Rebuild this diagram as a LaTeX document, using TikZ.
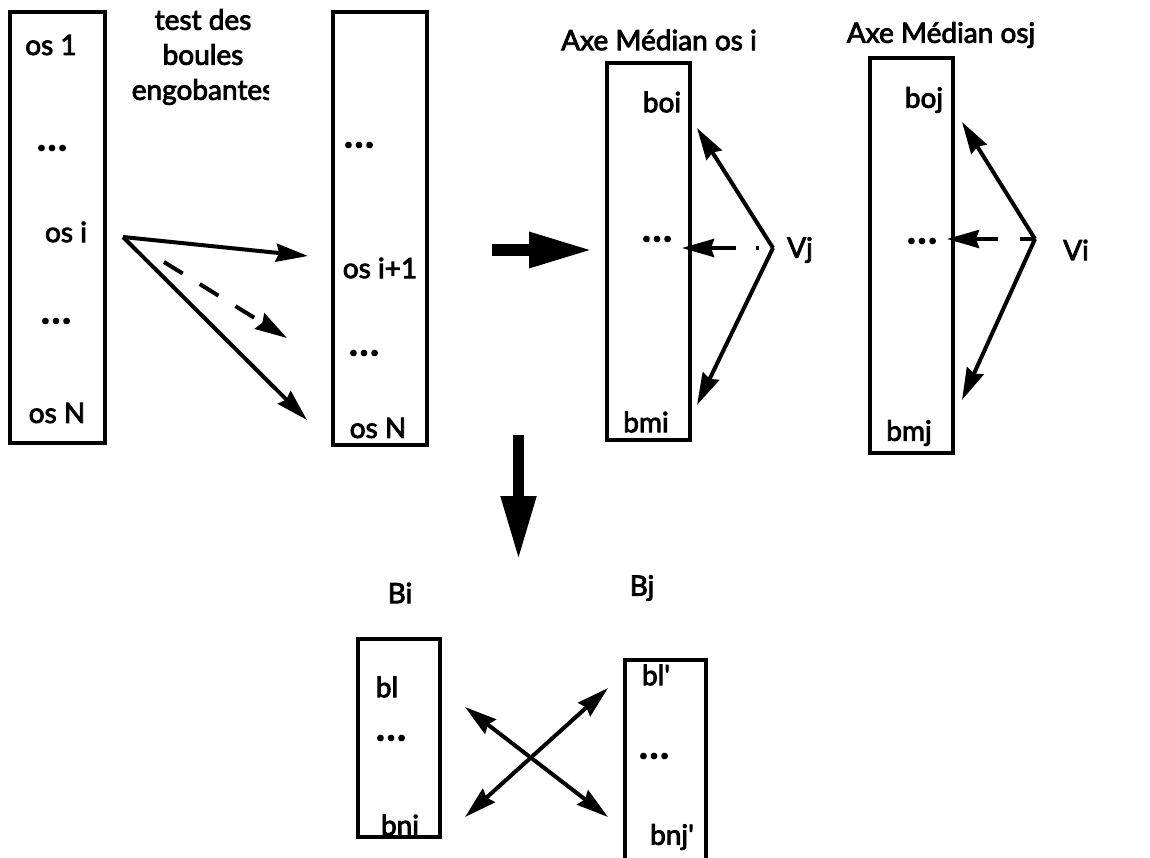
\documentclass[tikz,border=0pt]{standalone}
\usepackage{fontspec}
\setmainfont{Lato}[FakeBold=3, Ligatures=TeXOff]
\usetikzlibrary{arrows.meta}
\newcommand\tridots{\textbf{\fontsize{36}{36}\selectfont.\kern2pt.\kern2pt.}}
\begin{document}
\begin{tikzpicture}[x=1pt,y=-1pt,
  every node/.style={font=\fontsize{28}{36}\selectfont, inner sep=0pt},
  stackbox/.style={draw, line width=4pt, anchor=north west, inner sep=0pt, outer sep=0pt},
  thin arrow/.style={line width=4pt, -{Stealth[length=32pt,width=18pt,inset=3pt]}},
  both arrow/.style={line width=4pt, {Stealth[length=32pt,width=18pt,inset=3pt]}-{Stealth[length=32pt,width=18pt,inset=3pt]}},
  block arrow/.style={line width=12pt, -{Triangle[length=64pt,width=33pt]}}]
\useasboundingbox (0,0) rectangle (1150,858);

% list of bones
\node[stackbox, minimum width=95pt, minimum height=431pt] (list1) at (10,12) {};
\node (o1) at (51,45) {os 1};
\node (d1) at (52,148) {\tridots};
\node (oi) at (66,232) {os i};
\node (d2) at (56,321) {\tridots};
\node (oN) at (57,413) {os N};

% the test caption, cut at its right edge
\begin{scope}
\clip (110,0) rectangle (269,120);
\node[align=center, font=\fontsize{28}{35}\selectfont] (test) at (203,57) {test des\\boules\\engobantes};
\end{scope}

% remaining bones
\node[stackbox, minimum width=94pt, minimum height=433pt] (list2) at (333,12) {};
\node (e1) at (359,145) {\tridots};
\node (oi1) at (380,268) {os i+1};
\node (e2) at (364,353) {\tridots};
\node (eN) at (378,428) {os N};

% bounding-ball tests
\coordinate (src) at (123,237);
\coordinate (t1) at (308,256);
\coordinate (t2s) at (164,262);
\coordinate (t2) at (287,338);
\coordinate (t3) at (307,420);
\draw[thin arrow] (src) -- (t1);
\draw[thin arrow] (src) -- (t3);
\draw[thin arrow, dash pattern=on 22pt off 20pt] (t2s) -- (t2);

% block arrows
\coordinate (r0) at (492,250);
\coordinate (r1) at (593,250);
\draw[block arrow] (r0) -- (r1);
\coordinate (d0) at (518.5,435);
\coordinate (dd) at (518.5,560);
\draw[block arrow, line width=11pt] (d0) -- (dd);

% medial axis of bone i
\node (ti) at (659,40) {Axe Médian os i};
\node[stackbox, minimum width=83pt, minimum height=377pt] (mai) at (607,63) {};
\node (boi) at (662,102) {boi};
\node (mdi) at (657,239) {\tridots};
\node (bmi) at (646,422) {bmi};
\coordinate (vj) at (773,248);
\node (lvj) at (800,250) {Vj};
\coordinate (vjup) at (697,128);
\coordinate (vjdn) at (697,405);
\coordinate (vjmid) at (682,248);
\draw[thin arrow] (vj) -- (vjup);
\draw[thin arrow] (vj) -- (vjdn);
\draw[thin arrow, dash pattern=on 3pt off 20pt on 60pt off 14pt, dash phase=83pt] (vj) -- (vjmid);

% medial axis of bone j
\node (tj) at (941,35) {Axe Médian osj};
\node[stackbox, minimum width=83pt, minimum height=395pt] (maj) at (870,58) {};
\node (boj) at (924,100) {boj};
\node (mdj) at (922,241) {\tridots};
\node (bmj) at (909,433) {bmj};
\coordinate (vi) at (1035,239);
\node (lvi) at (1076,250) {Vi};
\coordinate (viup) at (962,122);
\coordinate (vidn) at (962,400);
\coordinate (vimid) at (947,239);
\draw[thin arrow] (vi) -- (viup);
\draw[thin arrow] (vi) -- (vidn);
\draw[thin arrow, dash pattern=on 15pt off 22pt on 60pt] (vi) -- (vimid);

% balls Bi and Bj
\node (lbi) at (400,593) {Bi};
\node (lbj) at (642,588) {Bj};
\node[stackbox, minimum width=82pt, minimum height=198pt] (bi) at (358,639) {};
\node (bl) at (387,687) {bl};
\node (bd) at (391,738) {\tridots};
\node (bni) at (400,825) {bni};
\node[stackbox, minimum width=81pt, minimum height=200pt] (bj) at (625,660) {};
\node (blp) at (656,675) {bl'};
\node (bdp) at (654,756) {\tridots};
\node (bnj) at (672,837) {bnj'};

\coordinate (xa) at (465,707);
\coordinate (xb) at (608,817);
\coordinate (xc) at (465,817);
\coordinate (xd) at (608,688);
\draw[both arrow] (xa) -- (xb);
\draw[both arrow] (xc) -- (xd);
\end{tikzpicture}
\end{document}
